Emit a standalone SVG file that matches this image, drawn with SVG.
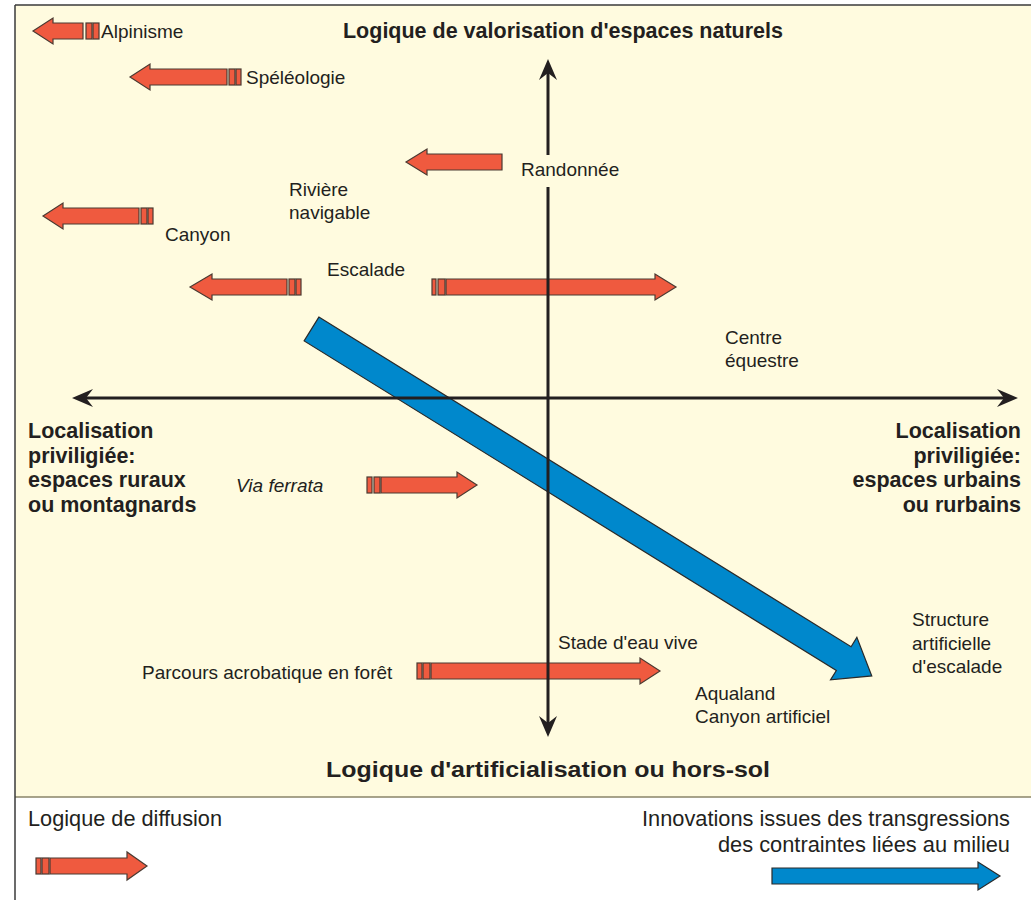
<svg xmlns="http://www.w3.org/2000/svg" width="1031" height="900" viewBox="0 0 1031 900">
<style>
.bg{fill:#fffbdf;stroke:none}
.lbl{font-family:"Liberation Sans",Arial,sans-serif;font-size:19px;fill:#231f20}
.ttl{font-family:"Liberation Sans",Arial,sans-serif;font-size:21.5px;font-weight:bold;fill:#231f20}
.leg{font-family:"Liberation Sans",Arial,sans-serif;font-size:22px;fill:#231f20}
.red{fill:#ef5a3f;stroke:#4a3a32;stroke-width:1.2;stroke-linejoin:miter}
.blue{fill:#0088cc;stroke:#2a2a2a;stroke-width:1.2}
.axis{stroke:#231f20;stroke-width:3;fill:none}
.ahead{fill:#231f20;stroke:none}
</style>
<rect x="0" y="0" width="1031" height="900" fill="#ffffff"/>
<rect class="bg" x="15" y="5" width="1020" height="792"/>
<line x1="15" y1="797" x2="1031" y2="797" stroke="#8a8468" stroke-width="1.5"/>
<line x1="15" y1="5" x2="1031" y2="5" stroke="#3a3a3a" stroke-width="1.5"/>
<line x1="15" y1="5" x2="15" y2="900" stroke="#3a3a3a" stroke-width="1.5"/>

<g id="titles">
<text class="ttl" x="563" y="38" text-anchor="middle">Logique de valorisation d'espaces naturels</text>
<text class="ttl" x="326" y="777" font-size="22" textLength="444" lengthAdjust="spacingAndGlyphs">Logique d'artificialisation ou hors-sol</text>
<text class="ttl" x="28" y="438"><tspan x="28">Localisation</tspan><tspan x="28" dy="24.7">priviligiée:</tspan><tspan x="28" dy="24.7">espaces ruraux</tspan><tspan x="28" dy="24.7">ou montagnards</tspan></text>
<text class="ttl" x="1021" y="438" text-anchor="end"><tspan x="1021">Localisation</tspan><tspan x="1021" dy="24.7">priviligiée:</tspan><tspan x="1021" dy="24.7">espaces urbains</tspan><tspan x="1021" dy="24.7">ou rurbains</tspan></text>
</g>

<g id="alpinisme">
<polygon class="red" points="33,31 53,18 53,23 83,23 83,39 53,39 53,44"/>
<rect class="red" x="86" y="23" width="6" height="16"/>
<rect class="red" x="93" y="23" width="6" height="16"/>
<text class="lbl" x="101" y="38">Alpinisme</text>
</g>

<g id="speleologie">
<polygon class="red" points="130,77 150,64 150,69 227,69 227,85 150,85 150,90"/>
<rect class="red" x="229" y="69" width="6" height="16"/>
<rect class="red" x="236" y="69" width="5" height="16"/>
<text class="lbl" x="246" y="84">Spéléologie</text>
</g>

<g id="randonnee">
<polygon class="red" points="406,162 427,149 427,154 502,154 502,170 427,170 427,175"/>
<text class="lbl" x="521" y="176">Randonnée</text>
</g>

<g id="riviere">
<text class="lbl" x="289" y="196"><tspan x="289">Rivière</tspan><tspan x="289" dy="23">navigable</tspan></text>
</g>

<g id="canyon">
<polygon class="red" points="43,216 63,203 63,208 139,208 139,224 63,224 63,229"/>
<rect class="red" x="141" y="208" width="6" height="16"/>
<rect class="red" x="148" y="208" width="5" height="16"/>
<text class="lbl" x="165" y="241">Canyon</text>
</g>

<g id="escalade">
<polygon class="red" points="190,287 212,274 212,279 287,279 287,295 212,295 212,300"/>
<rect class="red" x="289" y="279" width="6" height="16"/>
<rect class="red" x="296" y="279" width="5" height="16"/>
<polygon class="red" points="446,279 655,279 655,274 676,287 655,300 655,295 446,295"/>
<rect class="red" x="432" y="279" width="4" height="16"/>
<rect class="red" x="438" y="279" width="7" height="16"/>
<text class="lbl" x="327" y="276">Escalade</text>
</g>

<g id="centre-equestre">
<text class="lbl" x="725" y="344"><tspan x="725">Centre</tspan><tspan x="725" dy="23">équestre</tspan></text>
</g>

<g id="via-ferrata">
<polygon class="red" points="381,477 457,477 457,472 477,485 457,498 457,493 381,493"/>
<rect class="red" x="367" y="477" width="5" height="16"/>
<rect class="red" x="374" y="477" width="6" height="16"/>
<text class="lbl" x="236" y="492" font-style="italic">Via ferrata</text>
</g>

<g id="parcours">
<polygon class="red" points="431,663 640,663 640,658 660,671 640,684 640,679 431,679"/>
<rect class="red" x="417" y="663" width="5" height="16"/>
<rect class="red" x="423" y="663" width="7" height="16"/>
<text class="lbl" x="142" y="679">Parcours acrobatique en forêt</text>
</g>

<g id="stade-eau-vive">
<text class="lbl" x="558" y="649">Stade d'eau vive</text>
</g>

<g id="aqualand">
<text class="lbl" x="695" y="700"><tspan x="695">Aqualand</tspan><tspan x="695" dy="23">Canyon artificiel</tspan></text>
</g>

<g id="structure-artificielle">
<polygon class="blue" transform="translate(311.5,329) rotate(31.77)" points="0,-14 626,-14 626,-25 659,0 626,25 626,14 0,14"/>
<text class="lbl" x="912" y="626"><tspan x="912">Structure</tspan><tspan x="912" dy="23.5">artificielle</tspan><tspan x="912" dy="23.5">d'escalade</tspan></text>
</g>

<g id="connectors">
<line class="axis" x1="548" y1="72" x2="548" y2="155"/>
<line class="axis" x1="548" y1="187" x2="548" y2="724"/>
<polygon class="ahead" points="548,59 557,80 548,73 539,80"/>
<polygon class="ahead" points="548,737 557,716 548,723 539,716"/>
<line class="axis" x1="86" y1="398" x2="1004" y2="398"/>
<polygon class="ahead" points="72,398 93,389 86,398 93,407"/>
<polygon class="ahead" points="1018,398 997,389 1004,398 997,407"/>
</g>

<g id="legend">
<text class="leg" x="28" y="826" textLength="194" lengthAdjust="spacingAndGlyphs">Logique de diffusion</text>
<polygon class="red" points="50,858 127,858 127,852 147,866 127,880 127,874 50,874"/>
<rect class="red" x="36" y="858" width="5" height="16"/>
<rect class="red" x="42" y="858" width="7" height="16"/>
<text class="leg" x="642" y="826" textLength="368" lengthAdjust="spacingAndGlyphs">Innovations issues des transgressions</text>
<text class="leg" x="718" y="852" textLength="292" lengthAdjust="spacingAndGlyphs">des contraintes liées au milieu</text>
<polygon class="blue" points="772,868 978,868 978,862 1000,876 978,890 978,884 772,884"/>
</g>
</svg>
